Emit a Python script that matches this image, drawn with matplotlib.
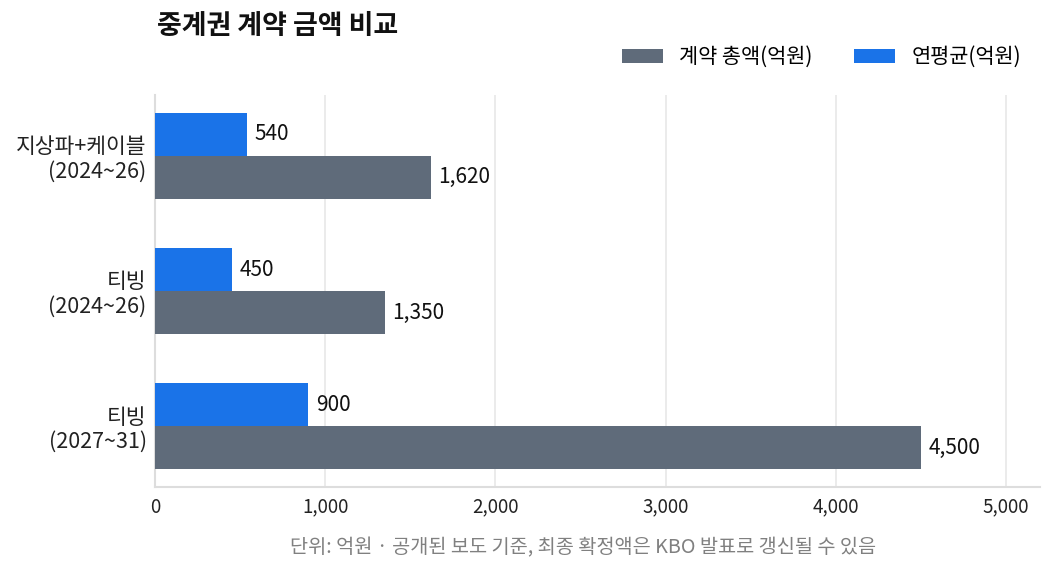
import matplotlib
matplotlib.use('Agg')
import matplotlib.pyplot as plt
import numpy as np

plt.rcParams['font.family'] = ['Noto Sans CJK KR', 'DejaVu Sans']

# 데이터
categories = ['지상파+케이블\n(2024~26)', '티빙\n(2024~26)', '티빙\n(2027~31)']
total_values = [1620, 1350, 4500]
annual_values = [540, 450, 900]
series_names = ['계약 총액(억원)', '연평균(억원)']
xticks = [0, 1000, 2000, 3000, 4000, 5000]

gray = '#5f6b7a'
blue = '#1a73e8'

fig = plt.figure(figsize=(10.53, 5.75), dpi=100)
ax = fig.add_axes([155/1053, 88/575, 885/1053, 392/575])

y = np.arange(len(categories))
h = 0.318
b1 = ax.barh(y + h/2, total_values, height=h, color=gray, label=series_names[0], zorder=3)
b2 = ax.barh(y - h/2, annual_values, height=h, color=blue, label=series_names[1], zorder=3)

for bars in (b1, b2):
    for rect in bars:
        w = rect.get_width()
        ax.annotate(f'{w:,.0f}', xy=(w, rect.get_y() + rect.get_height()/2),
                    xytext=(5.5, 0), textcoords='offset points',
                    va='center', ha='left', fontsize=15, color='#111111')

ax.set_xlim(0, 5200)
ax.set_ylim(2.45, -0.45)
ax.set_yticks(y)
ax.set_yticklabels(categories, fontsize=15.5, color='#222222', linespacing=1.15)
ax.set_xticks(xticks)
ax.set_xticklabels([f'{v:,}' for v in xticks], fontsize=13.5, color='#222222')
ax.tick_params(axis='both', length=0)
ax.tick_params(axis='x', pad=7)
ax.tick_params(axis='y', pad=6)

ax.grid(axis='x', color='#e8e8e8', linewidth=1.2, zorder=0)
for s in ['top', 'right']:
    ax.spines[s].set_visible(False)
ax.spines['left'].set_color('#dddddd')
ax.spines['bottom'].set_color('#dddddd')
ax.spines['left'].set_linewidth(1.5)
ax.spines['bottom'].set_linewidth(1.5)

fig.text(157/1053, 1 - 26/575, '중계권 계약 금액 비교', fontsize=19.4, fontweight='bold',
         ha='left', va='center', color='#111111')

fig.legend(handles=[b1, b2], labels=series_names, loc='center right',
           bbox_to_anchor=(1040/1053, 1 - 57/575), ncol=2, frameon=False,
           fontsize=15, handlelength=1.95, handleheight=0.65, columnspacing=2.0,
           handletextpad=0.8)

fig.text(583/1053, 1 - 548/575, '단위: 억원 · 공개된 보도 기준, 최종 확정액은 KBO 발표로 갱신될 수 있음',
         fontsize=14.2, color='#808080', ha='center', va='center')

fig.savefig('out.png', dpi=100)
